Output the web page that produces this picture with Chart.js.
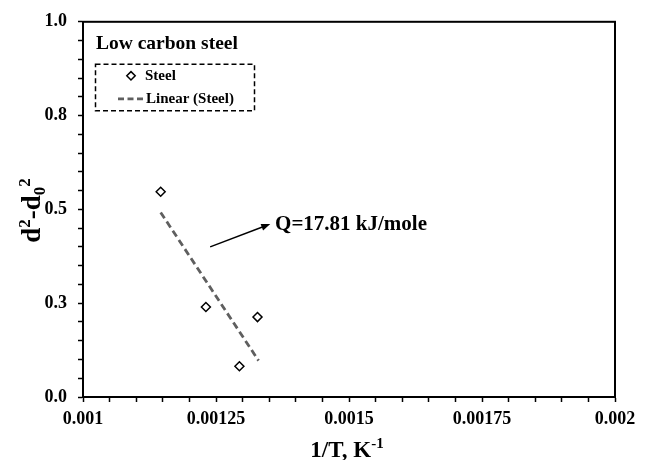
<!DOCTYPE html>
<html><head><meta charset="utf-8">
<script src="https://cdn.jsdelivr.net/npm/chart.js@4.4.1/dist/chart.umd.min.js"></script>
<style>html,body{margin:0;padding:0;background:#fff;} canvas{display:block;}</style>
</head><body>
<canvas id="c" width="648" height="460"></canvas>
<script>
// ---- data ----
const invT = [0.001146, 0.001231, 0.001294, 0.001328];
const d2 = [0.547, 0.240, 0.082, 0.213];
const trendX = [0.001146, 0.00133];
const trendY = [0.492, 0.097];
const xTickLabels = ['0.001', '0.00125', '0.0015', '0.00175', '0.002'];
const yTickLabels = ['0.0', '0.3', '0.5', '0.8', '1.0'];
const seriesNames = ['Steel', 'Linear (Steel)'];
const panelTitle = 'Low carbon steel';
const noteText = 'Q=17.81 kJ/mole';

// annotation anchors (data coordinates)
const arrowFrom = [0.001239, 0.400];
const arrowTo = [0.001352, 0.461];
const notePos = [0.001361, 0.445];

const SERIF = '"Liberation Serif", "Times New Roman", serif';
const TREND_COLOR = '#5f5f5f';

function drawDiamond(ctx, cx, cy, r) {
  ctx.beginPath();
  ctx.moveTo(cx, cy - r); ctx.lineTo(cx + r, cy); ctx.lineTo(cx, cy + r); ctx.lineTo(cx - r, cy);
  ctx.closePath();
  ctx.fillStyle = '#fff'; ctx.fill();
  ctx.strokeStyle = '#000'; ctx.lineWidth = 1.5; ctx.stroke();
}

function drawRich(ctx, segs, cx, baseY) {
  let total = 0;
  segs.forEach(s => { ctx.font = `bold ${s.size}px ${SERIF}`; s.w = ctx.measureText(s.t).width; total += s.w; });
  let xx = cx - total / 2;
  ctx.textAlign = 'left'; ctx.textBaseline = 'alphabetic';
  segs.forEach(s => { ctx.font = `bold ${s.size}px ${SERIF}`; ctx.fillText(s.t, xx, baseY + s.dy); xx += s.w; });
}

const annot = {
  id: 'annot',
  afterDraw(chart) {
    const { ctx, chartArea: a, scales: { x, y } } = chart;
    ctx.save();
    // frame
    ctx.strokeStyle = '#000'; ctx.lineWidth = 2; ctx.setLineDash([]);
    ctx.strokeRect(a.left, a.top, a.right - a.left, a.bottom - a.top);

    // panel title
    ctx.fillStyle = '#000';
    ctx.font = `bold 19.5px ${SERIF}`;
    ctx.textAlign = 'left'; ctx.textBaseline = 'alphabetic';
    ctx.fillText(panelTitle, a.left + 13, a.top + 27);

    // legend box
    ctx.strokeStyle = '#000'; ctx.lineWidth = 1.5; ctx.setLineDash([5, 3]);
    ctx.strokeRect(a.left + 12.5, a.top + 42.5, 159, 46.5);
    ctx.setLineDash([]);
    drawDiamond(ctx, a.left + 48, a.top + 54, 4.2);
    ctx.fillStyle = '#000';
    ctx.font = `bold 15px ${SERIF}`;
    ctx.fillText(seriesNames[0], a.left + 62, a.top + 58);
    ctx.strokeStyle = TREND_COLOR; ctx.lineWidth = 2.8; ctx.setLineDash([6, 3.5]);
    ctx.beginPath(); ctx.moveTo(a.left + 35, a.top + 77); ctx.lineTo(a.left + 61, a.top + 77); ctx.stroke();
    ctx.setLineDash([]);
    ctx.fillStyle = '#000';
    ctx.fillText(seriesNames[1], a.left + 63, a.top + 81);

    // arrow
    const x0 = x.getPixelForValue(arrowFrom[0]), y0 = y.getPixelForValue(arrowFrom[1]);
    const x1 = x.getPixelForValue(arrowTo[0]), y1 = y.getPixelForValue(arrowTo[1]);
    const ang = Math.atan2(y1 - y0, x1 - x0);
    ctx.strokeStyle = '#000'; ctx.lineWidth = 1.5;
    ctx.beginPath(); ctx.moveTo(x0, y0);
    ctx.lineTo(x1 - 7 * Math.cos(ang), y1 - 7 * Math.sin(ang)); ctx.stroke();
    ctx.beginPath();
    ctx.moveTo(x1, y1);
    ctx.lineTo(x1 - 9 * Math.cos(ang) + 3.5 * Math.sin(ang), y1 - 9 * Math.sin(ang) - 3.5 * Math.cos(ang));
    ctx.lineTo(x1 - 9 * Math.cos(ang) - 3.5 * Math.sin(ang), y1 - 9 * Math.sin(ang) + 3.5 * Math.cos(ang));
    ctx.closePath(); ctx.fillStyle = '#000'; ctx.fill();

    // note text
    ctx.font = `bold 21px ${SERIF}`;
    ctx.textAlign = 'left'; ctx.textBaseline = 'alphabetic';
    ctx.fillText(noteText, x.getPixelForValue(notePos[0]), y.getPixelForValue(notePos[1]));

    // x axis title
    drawRich(ctx, [
      { t: '1/T, K', size: 23, dy: 0 },
      { t: '-1', size: 15, dy: -9 }
    ], (a.left + a.right) / 2 - 2, a.bottom + 60);

    // y axis title
    ctx.save();
    ctx.translate(40, (a.top + a.bottom) / 2 + 1);
    ctx.rotate(-Math.PI / 2);
    drawRich(ctx, [
      { t: 'd', size: 27, dy: 0 },
      { t: '2', size: 17, dy: -10 },
      { t: '-d', size: 27, dy: 0 },
      { t: '0', size: 17, dy: 5 },
      { t: '2', size: 17, dy: -10 }
    ], 0, 0);
    ctx.restore();

    ctx.restore();
  }
};

const tickFont = { family: SERIF, size: 18, weight: 'bold' };

new Chart(document.getElementById('c'), {
  type: 'scatter',
  data: {
    datasets: [
      {
        label: seriesNames[0],
        data: invT.map((v, i) => ({ x: v, y: d2[i] })),
        pointStyle: 'rectRot',
        pointRadius: 4.5,
        pointHoverRadius: 4.5,
        pointBorderWidth: 1.5,
        borderColor: '#000',
        backgroundColor: '#fff',
        showLine: false,
        order: 0
      },
      {
        label: seriesNames[1],
        data: trendX.map((v, i) => ({ x: v, y: trendY[i] })),
        showLine: true,
        borderColor: TREND_COLOR,
        borderWidth: 2.8,
        borderDash: [7, 4],
        pointRadius: 0,
        fill: false,
        order: 1
      }
    ]
  },
  options: {
    responsive: false,
    animation: false,
    devicePixelRatio: 1,
    layout: { padding: { top: 17, right: 33, left: 0, bottom: 0 } },
    plugins: { legend: { display: false }, tooltip: { enabled: false } },
    scales: {
      x: {
        type: 'linear', min: 0.001, max: 0.002,
        afterFit(s) { s.height = 63; },
        grid: { drawOnChartArea: false, drawTicks: true, tickLength: 5, tickColor: '#000', tickWidth: 1.5 },
        border: { display: true, color: '#000', width: 2 },
        ticks: {
          stepSize: 0.00005, maxTicksLimit: 100, autoSkip: false, maxRotation: 0, minRotation: 0,
          color: '#000', font: tickFont, padding: 7,
          callback: (v, i) => (i % 5 === 0 ? xTickLabels[i / 5] : '')
        }
      },
      y: {
        type: 'linear', min: 0, max: 1,
        afterFit(s) { s.width = 83; },
        grid: { drawOnChartArea: false, drawTicks: true, tickLength: 5, tickColor: '#000', tickWidth: 1.5 },
        border: { display: true, color: '#000', width: 2 },
        ticks: {
          stepSize: 0.05, maxTicksLimit: 100, autoSkip: false,
          color: '#000', font: tickFont, padding: 11,
          callback: (v, i) => (i % 5 === 0 ? yTickLabels[i / 5] : '')
        }
      }
    }
  },
  plugins: [annot]
});
</script>
</body></html>
